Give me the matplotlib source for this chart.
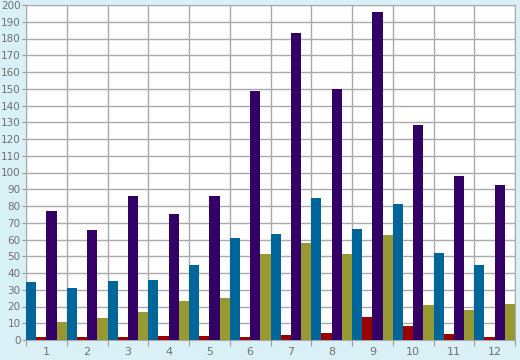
import numpy as np
import matplotlib
matplotlib.use("Agg")
import matplotlib.pyplot as plt
from matplotlib.ticker import MultipleLocator, FixedLocator

# Data
months = ["1", "2", "3", "4", "5", "6", "7", "8", "9", "10", "11", "12"]
blue = [34.5, 31, 35, 36, 45, 61, 63, 85, 66, 81, 52, 45]
red = [2, 1.5, 1.5, 2.5, 2.5, 2, 3, 4, 14, 8.5, 3.5, 2]
purple = [77, 65.5, 86, 75, 86, 148.5, 183, 150, 196, 128.5, 98, 92.5]
olive = [11, 13, 17, 23, 25, 51.5, 58, 51.5, 62.5, 21, 18, 21.5]

series = [blue, red, purple, olive]
colors = ["#006699", "#990000", "#330066", "#999933"]

fig = plt.figure(figsize=(5.2, 3.6), dpi=100)
fig.patch.set_facecolor("#d9f0f7")
ax = fig.add_axes([26 / 520, 20 / 360, 489 / 520, 335 / 360])
ax.set_facecolor("white")

x = np.arange(1, len(months) + 1)
w = 0.25
for k, (vals, c) in enumerate(zip(series, colors)):
    ax.bar(x - 0.375 + k * w, vals, width=w, color=c, zorder=3, linewidth=0)

ax.set_xlim(0.5, 12.5)
ax.set_ylim(0, 200)
ax.yaxis.set_major_locator(MultipleLocator(10))
ax.xaxis.set_major_locator(FixedLocator(np.arange(0.5, 13, 1)))
ax.xaxis.set_minor_locator(FixedLocator(x))
ax.set_xticklabels([])
ax.set_xticklabels(months, minor=True)
ax.tick_params(axis="x", which="minor", length=0, pad=5, labelsize=8)
ax.tick_params(axis="x", which="major", length=4, color="#999999")
ax.tick_params(axis="y", length=3, color="#999999", pad=1, labelsize=7.5)
ax.tick_params(labelcolor="#707070", which="both")

ax.grid(True, which="major", color="#aaaaaa", linewidth=1, zorder=0)
for s in ax.spines.values():
    s.set_color("#aaaaaa")

fig.savefig("out.png", dpi=100, facecolor=fig.get_facecolor())
